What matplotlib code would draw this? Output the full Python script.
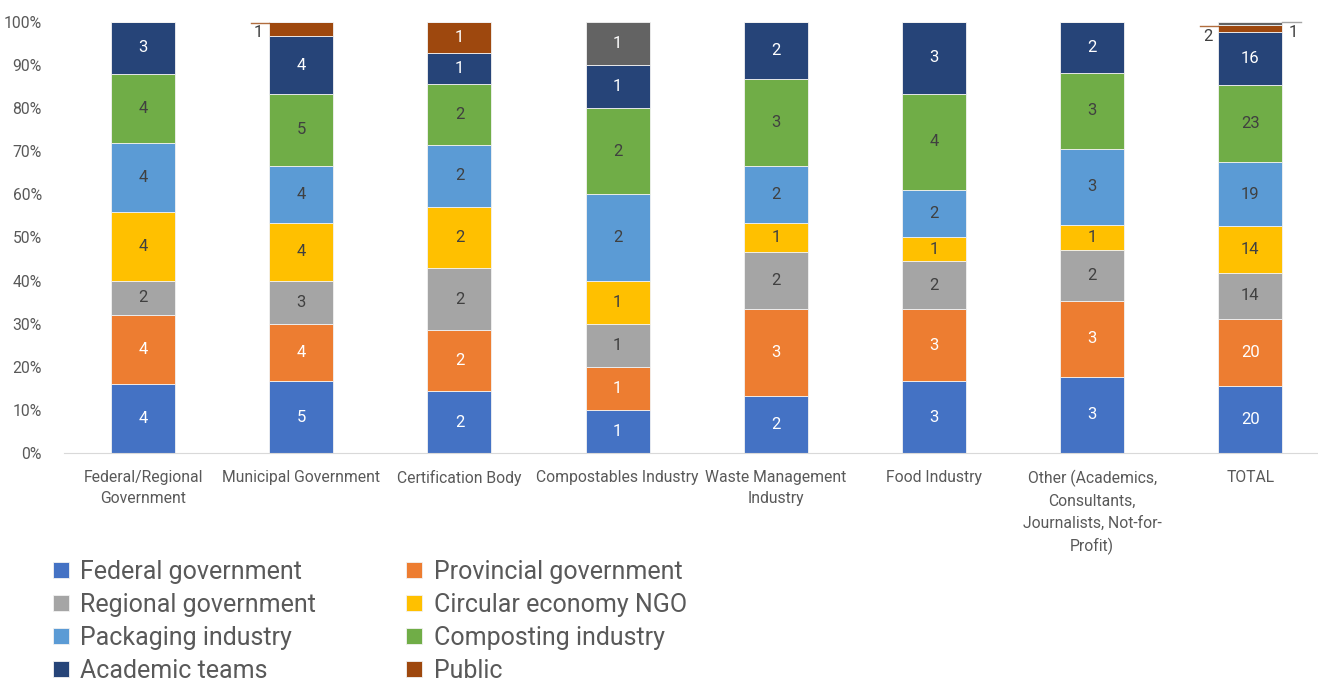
import matplotlib.pyplot as plt
import numpy as np

plt.rcParams['font.family'] = ['Roboto', 'DejaVu Sans']

categories = ['Federal/Regional\nGovernment', 'Municipal Government', 'Certification Body',
              'Compostables Industry', 'Waste Management\nIndustry', 'Food Industry',
              'Other (Academics,\nConsultants,\nJournalists, Not-for-\nProfit)', 'TOTAL']

federal = [4, 5, 2, 1, 2, 3, 3, 20]
provincial = [4, 4, 2, 1, 3, 3, 3, 20]
regional = [2, 3, 2, 1, 2, 2, 2, 14]
ngo = [4, 4, 2, 1, 1, 1, 1, 14]
packaging = [4, 4, 2, 2, 2, 2, 3, 19]
composting = [4, 5, 2, 2, 3, 4, 3, 23]
academic = [3, 4, 1, 1, 2, 3, 2, 16]
public = [0, 1, 1, 0, 0, 0, 0, 2]
unspecified = [0, 0, 0, 1, 0, 0, 0, 1]

series = [
    ('Federal government', federal, '#4472C4', 'white'),
    ('Provincial government', provincial, '#ED7D31', 'white'),
    ('Regional government', regional, '#A5A5A5', '#404040'),
    ('Circular economy NGO', ngo, '#FFC000', '#404040'),
    ('Packaging industry', packaging, '#5B9BD5', '#404040'),
    ('Composting industry', composting, '#70AD47', '#404040'),
    ('Academic teams', academic, '#264478', 'white'),
    ('Public', public, '#9E480E', 'white'),
    (None, unspecified, '#636363', 'white'),
]

totals = np.sum([np.array(s[1]) for s in series], axis=0)
x = np.arange(len(categories))
width = 0.405

fig = plt.figure(figsize=(13.18, 6.81), dpi=100)
ax = fig.add_axes([0.0486, 0.3348, 0.96, 0.633])

bottom = np.zeros(len(categories))
handles = {}
# segments whose labels sit outside the bar, with leader lines
outside = {(1, 'Public'): 'left', (7, 'Public'): 'left', (7, None): 'right'}
for name, vals, color, tcol in series:
    frac = np.array(vals) / totals
    bars = ax.bar(x, frac, width, bottom=bottom, color=color,
                  edgecolor='#f2f2f2', linewidth=0.6, label=name)
    handles[name] = bars
    for i, v in enumerate(vals):
        if v == 0:
            continue
        top = bottom[i] + frac[i]
        side = outside.get((i, name))
        if side == 'left':
            ax.plot([x[i] - 0.32, x[i] - width / 2], [top - 0.002, top - 0.002],
                    color=color, lw=1, alpha=0.8, clip_on=False)
            ax.text(x[i] - 0.27, top - 0.025, str(v), ha='center', va='center',
                    fontsize=12, color='#404040')
        elif side == 'right':
            ax.plot([x[i] + width / 2, x[i] + 0.32], [top, top],
                    color='#a5a5a5', lw=1, clip_on=False)
            ax.text(x[i] + 0.27, top - 0.025, str(v), ha='center', va='center',
                    fontsize=12, color='#404040')
        else:
            ax.text(x[i], bottom[i] + frac[i] / 2, str(v), ha='center', va='center',
                    fontsize=12, color=tcol)
    bottom += frac

ax.set_xlim(-0.5, 7.5)
ax.set_ylim(0, 1)
ax.set_yticks(np.arange(0, 1.01, 0.1))
ax.set_yticklabels([f'{int(round(t * 100))}%' for t in np.arange(0, 1.01, 0.1)])
ax.set_xticks(x)
ax.set_xticklabels(categories, linespacing=1.55)
ax.tick_params(axis='both', length=0, labelsize=11.3, colors='#595959')
ax.tick_params(axis='x', pad=12)
ax.tick_params(axis='y', pad=16)
for s in ['top', 'right', 'left']:
    ax.spines[s].set_visible(False)
ax.spines['bottom'].set_color('#d9d9d9')

order = ['Federal government', 'Regional government', 'Packaging industry', 'Academic teams',
         'Provincial government', 'Circular economy NGO', 'Composting industry', 'Public']
fig.legend([handles[n] for n in order], order, loc='upper left',
           bbox_to_anchor=(0.04, 0.178), ncol=2, frameon=False, fontsize=18,
           handlelength=0.65, handleheight=0.65, handletextpad=0.45,
           labelspacing=0.36, columnspacing=3.6, labelcolor='#595959',
           borderaxespad=0, borderpad=0)

fig.savefig('out.png', dpi=100)
